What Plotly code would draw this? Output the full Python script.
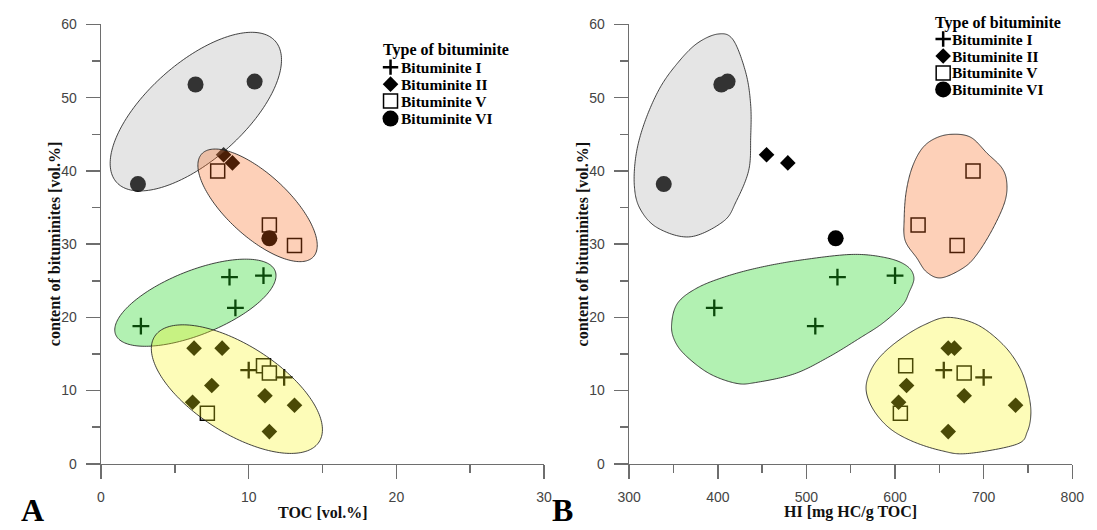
import numpy as np
import plotly.graph_objects as go

# ---------------- sample values ----------------
# Bituminite I
bit1_toc = [2.7, 8.7, 11.0, 9.1, 10.0, 12.4]
bit1_hi = [510, 535, 600, 396, 655, 700]
bit1_content = [18.8, 25.5, 25.7, 21.3, 12.8, 11.8]

# Bituminite II
bit2_toc = [8.3, 8.9, 6.3, 8.2, 7.5, 6.2, 11.1, 13.1, 11.4]
bit2_hi = [455, 479, 660, 667, 613, 604, 678, 736, 660]
bit2_content = [42.2, 41.1, 15.8, 15.8, 10.7, 8.4, 9.3, 8.0, 4.4]

# Bituminite V
bit5_toc = [7.9, 11.4, 13.1, 11.0, 11.4, 7.2]
bit5_hi = [688, 626, 670, 612, 678, 606]
bit5_content = [40.0, 32.6, 29.8, 13.4, 12.4, 6.9]

# Bituminite VI
bit6_toc = [6.4, 10.4, 2.5, 11.4]
bit6_hi = [404, 411, 339, 533]
bit6_content = [51.8, 52.2, 38.2, 30.8]

type_names = ["Bituminite I", "Bituminite II", "Bituminite V", "Bituminite VI"]
legend_title = "Type of bituminite"

x_ticks_toc = [0, 10, 20, 30]
x_ticks_hi = [300, 400, 500, 600, 700, 800]
y_ticks = [0, 10, 20, 30, 40, 50, 60]

# ---------------- group fields ----------------
# panel A: rotated ellipses (centre in data units, semi-axes as axis fractions, tilt in degrees)
fields_toc = [
    ("grey", 6.42, 48.1, 0.2406, 0.110, 42),
    ("orange", 10.6, 35.3, 0.172, 0.0706, -43),
    ("green", 6.39, 22.0, 0.194, 0.0728, 22),
    ("yellow", 9.2, 10.2, 0.221, 0.0993, -33),
]

# panel B: free-form outlines (HI, content)
field_hi_grey = [(400.4, 58.7), (417.3, 57.9), (431.6, 53.4), (437.1, 49.0), (437.1, 44.6),
                 (434.9, 40.1), (420.6, 35.8), (406.2, 33.1), (368.7, 31.0), (332.3, 32.2),
                 (312.4, 34.8), (305.8, 38.0), (308.0, 42.4), (317.9, 46.8), (334.5, 51.3),
                 (354.4, 54.7), (376.4, 57.4)]
field_hi_orange = [(663.2, 45.0), (685.3, 44.6), (704.0, 42.4), (720.6, 40.4), (726.1, 38.4),
                   (723.9, 35.8), (710.7, 32.2), (693.0, 28.7), (677.6, 26.8), (652.2, 25.4),
                   (635.6, 26.2), (624.6, 28.1), (611.4, 30.5), (610.3, 33.5), (612.5, 37.1),
                   (619.1, 40.4), (630.1, 43.0), (644.5, 44.4)]
field_hi_green = [(347.8, 18.9), (354.4, 21.9), (376.4, 24.0), (409.5, 25.6), (450.3, 26.9),
                  (497.8, 27.9), (552.9, 28.6), (591.5, 28.1), (613.6, 27.0), (621.3, 25.4),
                  (615.8, 23.4), (608.0, 21.6), (586.0, 19.2), (560.6, 17.2), (525.3, 14.6),
                  (486.7, 12.3), (442.6, 11.1), (420.5, 11.0), (390.8, 12.3), (365.4, 14.6),
                  (352.2, 16.6)]
field_hi_yellow = [(659.6, 20.0), (692.7, 19.0), (721.7, 16.3), (740.4, 13.2), (749.3, 10.2),
                   (753.3, 7.1), (749.3, 4.4), (736.8, 2.65), (681.6, 1.4), (652.2, 1.8),
                   (619.1, 3.1), (593.4, 4.9), (575.0, 7.5), (567.3, 10.2), (572.8, 12.8),
                   (586.0, 15.0), (608.0, 17.2), (633.4, 19.0)]

# ---------------- styling ----------------
W, H = 1097, 530
FIELD_FILL = {
    "grey": "rgba(170,170,170,0.30)",
    "orange": "rgba(247,100,20,0.30)",
    "green": "rgba(30,215,30,0.34)",
    "yellow": "rgba(250,245,20,0.30)",
}
FIELD_LINE = "rgba(35,35,35,0.85)"
AXIS_COLOR = "#6e6e6e"
TICK_FONT = dict(family="Liberation Sans, Arial, sans-serif", size=14, color="#444444")
SERIF = "Liberation Serif, Times New Roman, serif"

MARKERS = [
    dict(symbol="cross-thin", size=12, color="black", line=dict(width=2.3, color="black")),
    dict(symbol="diamond", size=12, color="black", line=dict(width=0)),
    dict(symbol="square", size=14, color="white", line=dict(width=1.5, color="black")),
    dict(symbol="circle", size=16, color="black", line=dict(width=0)),
]
LEGEND_MARKERS = [
    dict(symbol="cross-thin", size=11, color="black", line=dict(width=2.5, color="black")),
    dict(symbol="diamond", size=12, color="black", line=dict(width=0)),
    dict(symbol="square", size=14, color="white", line=dict(width=1.5, color="black")),
    dict(symbol="circle", size=16, color="black", line=dict(width=0)),
]


def px_x(p):
    return p / W


def px_y(p):
    return 1 - p / H


def ellipse_path(cx, cy, a, b, tilt, xspan, yspan, n=180):
    t = np.linspace(0, 2 * np.pi, n, endpoint=False)
    th = np.deg2rad(tilt)
    u = a * np.cos(t) * np.cos(th) - b * np.sin(t) * np.sin(th)
    v = a * np.cos(t) * np.sin(th) + b * np.sin(t) * np.cos(th)
    xs, ys = cx + u * xspan, cy + v * yspan
    return "M " + " L ".join(f"{x:.4f},{y:.4f}" for x, y in zip(xs, ys)) + " Z"


def outline_path(pts, x0, xspan, yspan, n=20):
    # closed Catmull-Rom curve through the outline, evaluated in axis-fraction space
    P = np.array([((x - x0) / xspan, y / yspan) for x, y in pts])
    m = len(P)
    out = []
    for i in range(m):
        p0, p1, p2, p3 = P[(i - 1) % m], P[i], P[(i + 1) % m], P[(i + 2) % m]
        for t in np.linspace(0, 1, n, endpoint=False):
            out.append(0.5 * (2 * p1 + (-p0 + p2) * t + (2 * p0 - 5 * p1 + 4 * p2 - p3) * t * t
                              + (-p0 + 3 * p1 - 3 * p2 + p3) * t ** 3))
    out = np.array(out)
    xs, ys = x0 + out[:, 0] * xspan, out[:, 1] * yspan
    return "M " + " L ".join(f"{x:.4f},{y:.4f}" for x, y in zip(xs, ys)) + " Z"


fig = go.Figure()

# scatter points: squares first, then crosses, diamonds and circles on top
order = [2, 0, 1, 3]
toc_sets = [bit1_toc, bit2_toc, bit5_toc, bit6_toc]
hi_sets = [bit1_hi, bit2_hi, bit5_hi, bit6_hi]
content_sets = [bit1_content, bit2_content, bit5_content, bit6_content]
for k in order:
    fig.add_trace(go.Scatter(x=toc_sets[k], y=content_sets[k], mode="markers",
                             marker=MARKERS[k], name=type_names[k],
                             xaxis="x", yaxis="y", showlegend=False, cliponaxis=False))
for k in order:
    fig.add_trace(go.Scatter(x=hi_sets[k], y=content_sets[k], mode="markers",
                             marker=MARKERS[k], name=type_names[k],
                             xaxis="x2", yaxis="y2", showlegend=False, cliponaxis=False))

# translucent group fields laid over the points
shapes = []
for name, cx, cy, a, b, tilt in fields_toc:
    shapes.append(dict(type="path", xref="x", yref="y", layer="above",
                       path=ellipse_path(cx, cy, a, b, tilt, 30, 60),
                       fillcolor=FIELD_FILL[name], line=dict(color=FIELD_LINE, width=1)))
for name, pts in [("grey", field_hi_grey), ("orange", field_hi_orange),
                  ("green", field_hi_green), ("yellow", field_hi_yellow)]:
    shapes.append(dict(type="path", xref="x2", yref="y2", layer="above",
                       path=outline_path(pts, 300, 500, 60),
                       fillcolor=FIELD_FILL[name], line=dict(color=FIELD_LINE, width=1)))

# key boxes (pixel overlay axis)
keys = [
    dict(title=(378, 43), mx=387, tx=397, rows=[61, 78.5, 96, 114]),
    dict(title=(943, 15), mx=952, tx=960, rows=[32, 49.5, 67, 84]),
]
annotations = []
key_font = dict(family=SERIF, size=15.5, color="black", weight="bold")
title_key_font = dict(family=SERIF, size=16, color="black", weight="bold")
for key in keys:
    for k in range(4):
        fig.add_trace(go.Scatter(x=[key["mx"]], y=[key["rows"][k]], mode="markers",
                                 marker=LEGEND_MARKERS[k], xaxis="x3", yaxis="y3",
                                 showlegend=False, hoverinfo="skip", cliponaxis=False))
        annotations.append(dict(x=px_x(key["tx"]), y=px_y(key["rows"][k]), xref="paper", yref="paper",
                                text=type_names[k], showarrow=False, xanchor="left", yanchor="middle",
                                borderpad=0, font=key_font))
    annotations.append(dict(x=px_x(key["title"][0]), y=px_y(key["title"][1]), xref="paper", yref="paper",
                            text=legend_title, showarrow=False, xanchor="left", yanchor="middle",
                            borderpad=0, font=title_key_font))

# axis titles and panel letters
title_font = dict(family=SERIF, size=16, color="#111111", weight="bold")
for x, y, text, angle in [(43, 243.5, "content of bituminites [vol.%]", -90),
                          (583, 243.5, "content of bituminites [vol.%]", -90),
                          (317, 520, "TOC [vol.%]", 0),
                          (857.5, 520, "HI [mg HC/g TOC]", 0)]:
    annotations.append(dict(x=px_x(x), y=px_y(y), xref="paper", yref="paper", text=text,
                            textangle=angle, showarrow=False, xanchor="center", yanchor="middle",
                            borderpad=0, font=title_font))
for x, text in [(8, "A"), (551, "B")]:
    annotations.append(dict(x=px_x(x), y=px_y(518), xref="paper", yref="paper", text=text,
                            showarrow=False, xanchor="left", yanchor="middle", borderpad=0,
                            font=dict(family=SERIF, size=32, color="black", weight="bold")))

axis_common = dict(showgrid=False, zeroline=False, showline=True, linecolor=AXIS_COLOR,
                   linewidth=1.5, ticks="outside", ticklen=14, tickwidth=1.5, tickcolor=AXIS_COLOR,
                   tickfont=TICK_FONT, ticklabelstandoff=6, fixedrange=True)

ydom = [(H - 470) / H, (H - 17) / H]
fig.update_layout(
    width=W, height=H, autosize=False,
    margin=dict(l=0, r=0, t=0, b=0),
    paper_bgcolor="white", plot_bgcolor="rgba(0,0,0,0)",
    showlegend=False,
    xaxis=dict(domain=[91 / W, 544 / W], range=[0, 30], tickvals=x_ticks_toc, anchor="y",
               minor=dict(dtick=5, ticklen=8, ticks="outside", tickcolor=AXIS_COLOR, tickwidth=1.5),
               **axis_common),
    yaxis=dict(domain=ydom, range=[0, 60], tickvals=y_ticks, anchor="x",
               minor=dict(dtick=5, ticklen=8, ticks="outside", tickcolor=AXIS_COLOR, tickwidth=1.5),
               **axis_common),
    xaxis2=dict(domain=[631 / W, 1084 / W], range=[300, 800], tickvals=x_ticks_hi, anchor="y2",
                minor=dict(dtick=50, ticklen=8, ticks="outside", tickcolor=AXIS_COLOR, tickwidth=1.5),
                **axis_common),
    yaxis2=dict(domain=ydom, range=[0, 60], tickvals=y_ticks, anchor="x2",
                minor=dict(dtick=5, ticklen=8, ticks="outside", tickcolor=AXIS_COLOR, tickwidth=1.5),
                **axis_common),
    xaxis3=dict(domain=[0, 1], range=[0, W], visible=False, anchor="y3", fixedrange=True),
    yaxis3=dict(domain=[0, 1], range=[H, 0], visible=False, anchor="x3", fixedrange=True),
    shapes=shapes,
    annotations=annotations,
)

fig.write_html("out.html", config=dict(displayModeBar=False, staticPlot=True))
